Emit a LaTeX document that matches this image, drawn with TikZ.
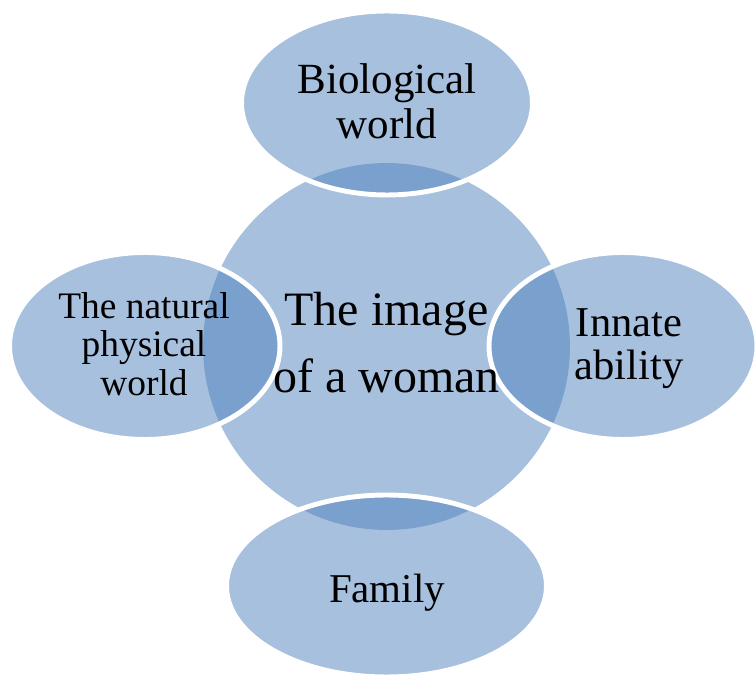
\documentclass[tikz,border=0pt]{standalone}
\usepackage{fontspec}
\setmainfont{Liberation Serif}
\usepackage{tikz}
\usetikzlibrary{shapes.geometric}
\definecolor{accent}{RGB}{79,129,189}

\begin{document}
\begin{tikzpicture}[x=0.02cm,y=-0.02cm,
    hub/.style={circle,fill=accent,fill opacity=0.5,inner sep=0pt,minimum size=7.34cm},
    petal/.style={ellipse,fill=accent,fill opacity=0.5,draw=white,line width=2.8pt,inner sep=0pt},
    lbl/.style={align=center,text=black,inner sep=0pt}]
  \useasboundingbox (0,0) rectangle (755,675);
  % centre circle
  \node[hub] (woman) at (386.5,346.5) {};
  % the four ellipses round it
  \node[petal,minimum width=5.82cm,minimum height=3.68cm] (bio) at (387,103) {};
  \node[petal,minimum width=5.41cm,minimum height=3.74cm] (nature) at (144.75,346) {};
  \node[petal,minimum width=5.36cm,minimum height=3.74cm] (innate) at (623,346) {};
  \node[petal,minimum width=6.40cm,minimum height=3.64cm] (family) at (386.5,586) {};
  % texts on top
  \node[lbl,font=\fontsize{27.3}{38.1}\selectfont] (woman-t) at (386.5,343) {The image\\of a woman};
  \node[lbl,font=\fontsize{24.5}{25.6}\selectfont] (bio-t) at (387,101) {Biological\\world};
  \node[lbl,font=\fontsize{21.3}{21.9}\selectfont] (nature-t) at (144,344) {The natural\\physical\\world};
  \node[lbl,font=\fontsize{24.2}{24.5}\selectfont] (innate-t) at (629,348.5) {Innate\\ability};
  \node[lbl,font=\fontsize{23.3}{24}\selectfont] (family-t) at (387,592.5) {Family};
\end{tikzpicture}
\end{document}
